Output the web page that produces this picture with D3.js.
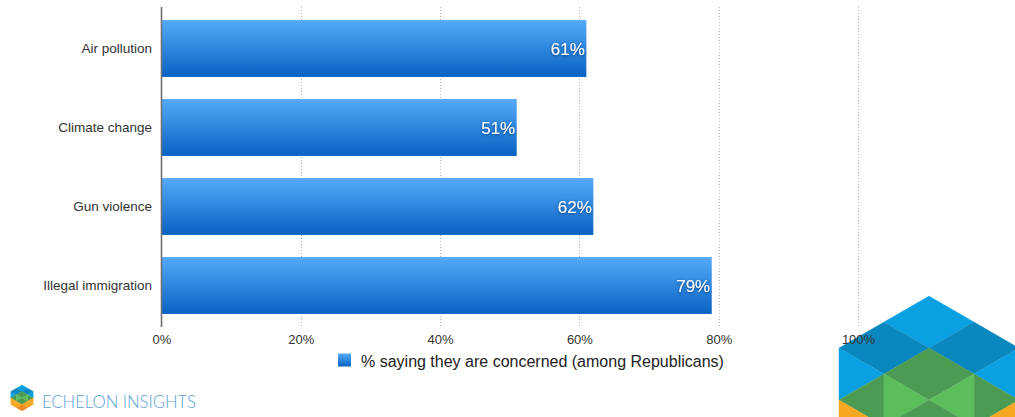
<!DOCTYPE html>
<html><head><meta charset="utf-8">
<script src="https://cdn.jsdelivr.net/npm/d3@7"></script>
<style>
html,body{margin:0;padding:0;background:#fff;}
svg{display:block;font-family:"Liberation Sans",Arial,sans-serif;}
</style></head>
<body><svg id="c" width="1015" height="417"></svg>
<script>
const categories = ["Air pollution","Climate change","Gun violence","Illegal immigration"];
const values = [0.61, 0.51, 0.62, 0.79];
const tickValues = [0, 0.2, 0.4, 0.6, 0.8, 1.0];
const tickLabels = ["0%","20%","40%","60%","80%","100%"];
const seriesName = "% saying they are concerned (among Republicans)";
const brand = "ECHELON INSIGHTS";

const svg = d3.select("#c");
const defs = svg.append("defs");
const g1 = defs.append("linearGradient").attr("id","barGrad").attr("x1",0).attr("y1",0).attr("x2",0).attr("y2",1);
g1.append("stop").attr("offset","0%").attr("stop-color","#55aaf9");
g1.append("stop").attr("offset","100%").attr("stop-color","#0862c2");
const f = defs.append("filter").attr("id","ts").attr("x","-20%").attr("y","-30%").attr("width","140%").attr("height","160%");
f.append("feDropShadow").attr("dx",0).attr("dy",1).attr("stdDeviation",1.6).attr("flood-color","#0a3a78").attr("flood-opacity",0.9);

const x = d3.scaleLinear().domain([0,1]).range([161.5, 858]);
const y = d3.scaleBand().domain(categories).range([9, 325]).paddingInner(0.28).paddingOuter(0.14);

// gridlines
svg.append("g").selectAll("line").data(tickValues.slice(1)).join("line")
  .attr("x1",d=>Math.round(x(d))+0.5).attr("x2",d=>Math.round(x(d))+0.5)
  .attr("y1",7).attr("y2",327)
  .attr("stroke","#b0b0b0").attr("stroke-width",1).attr("stroke-dasharray","1,2");

// logo drawing
function logo(cx, cy, s){
  const w = s*Math.sqrt(3)/2, h = s/2;
  const P = (i,j)=>[cx+i*w, cy+j*h];
  const LB="#0aa0e2", DB="#0a87be", DG="#4b9b53", LG="#5cbd5c", OR="#f6a823", DO="#f08a22";
  const shapes = [
    [LB, [[0,-4],[-1,-3],[0,-2],[1,-3]]],
    [DB, [[-1,-3],[-2,-2],[-1,-1],[0,-2]]],
    [DB, [[1,-3],[0,-2],[1,-1],[2,-2]]],
    [LB, [[-2,-2],[-1,-1],[-2,0]]],
    [LB, [[2,-2],[1,-1],[2,0]]],
    [DG, [[0,-2],[-1,-1],[0,0],[1,-1]]],
    [DG, [[-2,0],[-1,-1],[-1,1]]],
    [DG, [[2,0],[1,-1],[1,1]]],
    [LG, [[-1,-1],[0,0],[-1,1]]],
    [LG, [[1,-1],[0,0],[1,1]]],
    [DG, [[0,0],[-1,1],[0,2],[1,1]]],
    [OR, [[-2,0],[-1,1],[-2,2]]],
    [OR, [[2,0],[1,1],[2,2]]],
    [OR, [[-1,1],[-2,2],[-1,3],[0,2]]],
    [OR, [[1,1],[2,2],[1,3],[0,2]]],
    [DO, [[0,2],[-1,3],[0,4],[1,3]]]
  ];
  const gg = svg.append("g");
  gg.selectAll("path").data(shapes).join("path")
    .attr("d", d=> "M"+d[1].map(p=>P(p[0],p[1]).join(",")).join("L")+"Z")
    .attr("fill", d=>d[0]).attr("stroke", d=>d[0]).attr("stroke-width",0.3);
}
logo(929, 400, 52);

// bars
svg.append("g").selectAll("rect").data(categories).join("rect")
  .attr("x", x(0)).attr("y", d=>y(d))
  .attr("width", (d,i)=>x(values[i])-x(0)).attr("height", y.bandwidth())
  .attr("fill","url(#barGrad)");

// value labels
svg.append("g").selectAll("text").data(categories).join("text")
  .attr("x", (d,i)=>x(values[i])-1.5).attr("y", d=>y(d)+y.bandwidth()/2+6)
  .attr("text-anchor","end").attr("fill","#fff").attr("font-size",17)
  .attr("filter","url(#ts)")
  .text((d,i)=>Math.round(values[i]*100)+"%");

// category labels
svg.append("g").selectAll("text").data(categories).join("text")
  .attr("x", 152).attr("y", d=>y(d)+y.bandwidth()/2+4.5)
  .attr("text-anchor","end").attr("fill","#333").attr("font-size",13.5)
  .text(d=>d);

// y axis line
svg.append("line").attr("x1",161.5).attr("x2",161.5).attr("y1",7).attr("y2",327)
  .attr("stroke","#6f6f6f").attr("stroke-width",1.6);

// x axis tick labels
const xa = d3.axisBottom(x).tickValues(tickValues).tickFormat((d,i)=>tickLabels[i]).tickSize(0).tickPadding(0);
const ax = svg.append("g").attr("transform","translate(0,335)").call(xa);
ax.select(".domain").remove();
ax.selectAll("text").attr("font-size",13).attr("fill","#333").attr("font-family","Liberation Sans, Arial, sans-serif").attr("dy","0.71em").attr("y",0);

// legend
svg.append("rect").attr("x",338).attr("y",353.5).attr("width",13).attr("height",13).attr("fill","url(#barGrad)");
svg.append("text").attr("x",361).attr("y",366.5).attr("font-size",16).attr("fill","#222").text(seriesName);

// small logo + brand
logo(22, 398, 6.5);
svg.append("text").attr("x",42).attr("y",408).attr("font-family","Lato, 'Open Sans', sans-serif")
  .attr("font-weight",300).attr("font-size",17.5).attr("fill","#5aa3d8")
  .attr("textLength",154).attr("lengthAdjust","spacingAndGlyphs").text(brand);
</script></body></html>
